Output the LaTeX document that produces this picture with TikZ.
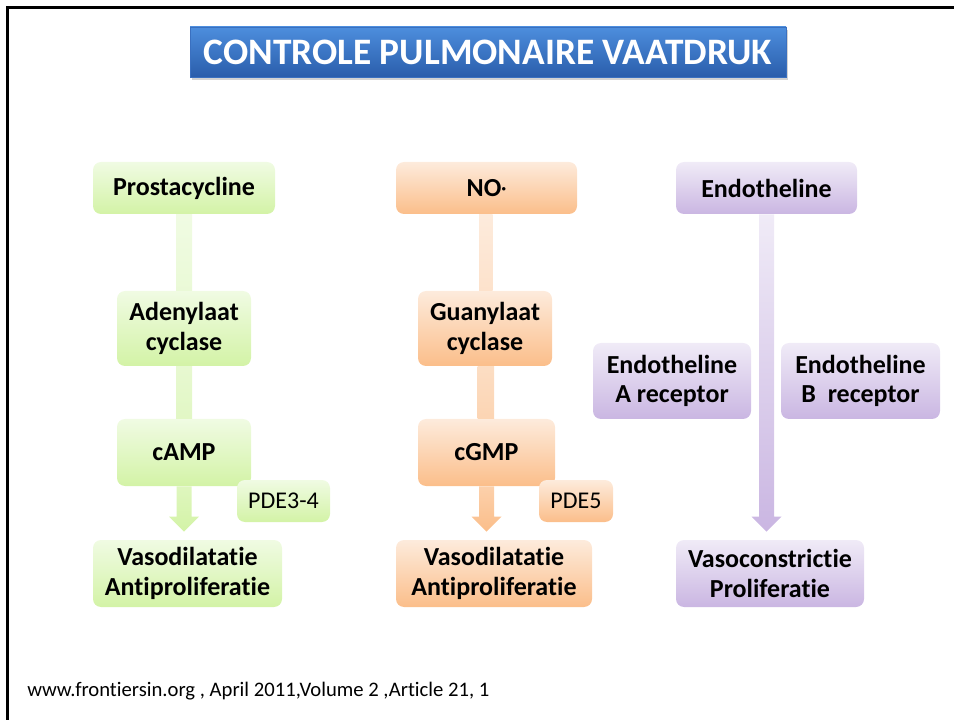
\documentclass[tikz,border=0pt]{standalone}
\usepackage{fontspec}
\setmainfont{Carlito}[Ligatures=NoCommon]
\usetikzlibrary{calc,shadows}

\definecolor{grTop}{HTML}{F0FBE3}
\definecolor{grBot}{HTML}{D3F3A6}
\definecolor{orTop}{HTML}{FDEBDC}
\definecolor{orBot}{HTML}{FBBE8A}
\definecolor{puTop}{HTML}{F0EBF7}
\definecolor{puBot}{HTML}{CAB6E2}
\definecolor{blTop}{HTML}{4D8EDD}
\definecolor{blBot}{HTML}{2A5DAB}
\definecolor{blEdge}{HTML}{3A70C0}

\begin{document}
\begin{tikzpicture}[x=0.75pt,y=-0.75pt,
  sz/.style 2 args={minimum width=#1*0.75pt, minimum height=#2*0.75pt},
  box/.style={rounded corners=6pt, inner sep=0pt, align=center,
    font=\fontsize{19.5}{22}\selectfont\bfseries},
  plain/.style={font=\fontsize{18}{22}\selectfont},
  greenbox/.style={box, top color=grTop, bottom color=grBot},
  orangebox/.style={box, top color=orTop, bottom color=orBot},
  purplebox/.style={box, top color=puTop, bottom color=puBot},
  titlebox/.style={inner sep=0pt, top color=blTop, bottom color=blBot,
    draw=blEdge, line width=0.6pt, text=white,
    font=\fontsize{28}{32}\selectfont\bfseries,
    drop shadow={shadow xshift=1.5pt, shadow yshift=-2pt, opacity=0.35}}]
\useasboundingbox (0,0) rectangle (954,720);
% slide frame
\draw [line width=1.9pt] (954,7.5) -- (7.5,7.5) -- (7.5,720);
% title
\node [titlebox, sz={596}{50}] (title) at (488,52) {CONTROLE PULMONAIRE VAATDRUK};
% top row
\node [greenbox, sz={182}{52}] (prost) at (184,188) {Prostacycline};
\node [orangebox, sz={181}{52}] (no) at (486.5,188) {NO{\fontsize{14}{14}\selectfont\raisebox{0.1em}{·}}};
\node [purplebox, sz={181}{52}] (endo) at (766.5,188) {Endotheline};
% enzymes and receptors
\node [greenbox, sz={134}{75}] (adcy) at (184,328.5) {Adenylaat\\cyclase};
\node [orangebox, sz={134}{75}] (gucy) at (485,328.5) {Guanylaat\\cyclase};
\node [purplebox, sz={158}{76}] (etA) at (672,381) {Endotheline\\A receptor};
\node [purplebox, sz={159}{76}] (etB) at (860.5,381) {Endotheline\\B\ \ receptor};
% second messengers
\node [greenbox, sz={134}{67}] (camp) at (184,452.5) {cAMP};
\node [orangebox, sz={137}{67}] (cgmp) at (486.5,452.5) {cGMP};
\node [greenbox, plain, sz={93}{42}] (pde34) at (283.5,501) {PDE3-4};
\node [orangebox, plain, sz={74}{42}] (pde5) at (576,501) {PDE5};
% effects
\node [greenbox, sz={189}{67}] (vasoG) at (187.5,573.5) {Vasodilatatie\\Antiproliferatie};
\node [orangebox, sz={196}{67}] (vasoO) at (494,573.5) {Vasodilatatie\\Antiproliferatie};
\node [purplebox, sz={188}{67}] (vasoP) at (770,573.5) {Vasoconstrictie\\Proliferatie};
% green pathway
\shade [top color=grTop, bottom color=grTop!80!grBot] ([shift={(-8,0)}]prost.south) rectangle ([shift={(8,0)}]adcy.north);
\shade [top color=grTop!70!grBot, bottom color=grTop!50!grBot] ([shift={(-8,0)}]adcy.south) rectangle ([shift={(8,0)}]camp.north);
\coordinate (gTip) at ($(camp.south |- vasoG.north)+(0,-8)$);
\shade [top color=grTop!40!grBot, bottom color=grBot] ([shift={(-7.5,0)}]camp.south) -- ([shift={(-7.5,-15)}]gTip)
  -- ([shift={(-15,-15)}]gTip) -- (gTip) -- ([shift={(15,-15)}]gTip) -- ([shift={(7.5,-15)}]gTip)
  -- ([shift={(7.5,0)}]camp.south) -- cycle;
% orange pathway
\shade [top color=orTop, bottom color=orTop!80!orBot] ([shift={(-7.5,0)}]no.south) rectangle ([shift={(7.5,0)}]gucy.north);
\shade [top color=orTop!70!orBot, bottom color=orTop!50!orBot] ([shift={(-7.5,0)}]gucy.south) rectangle ([shift={(7.5,0)}]cgmp.north);
\coordinate (oTip) at ($(cgmp.south |- vasoO.north)+(0,-8)$);
\shade [top color=orTop!40!orBot, bottom color=orBot] ([shift={(-7.5,0)}]cgmp.south) -- ([shift={(-7.5,-15)}]oTip)
  -- ([shift={(-15,-15)}]oTip) -- (oTip) -- ([shift={(15,-15)}]oTip) -- ([shift={(7.5,-15)}]oTip)
  -- ([shift={(7.5,0)}]cgmp.south) -- cycle;
% purple pathway
\coordinate (pTip) at ($(endo.south |- vasoP.north)+(0,-8)$);
\shade [top color=puTop, bottom color=puBot] ([shift={(-7.5,0)}]endo.south) -- ([shift={(-7.5,-15)}]pTip)
  -- ([shift={(-15,-15)}]pTip) -- (pTip) -- ([shift={(15,-15)}]pTip) -- ([shift={(7.5,-15)}]pTip)
  -- ([shift={(7.5,0)}]endo.south) -- cycle;
% source
\node [anchor=base west, inner sep=0pt, font=\fontsize{15.5}{18}\selectfont] (src) at (27,696)
  {www.frontiersin.org , April 2011,Volume 2 ,Article 21, 1};
\end{tikzpicture}
\end{document}
